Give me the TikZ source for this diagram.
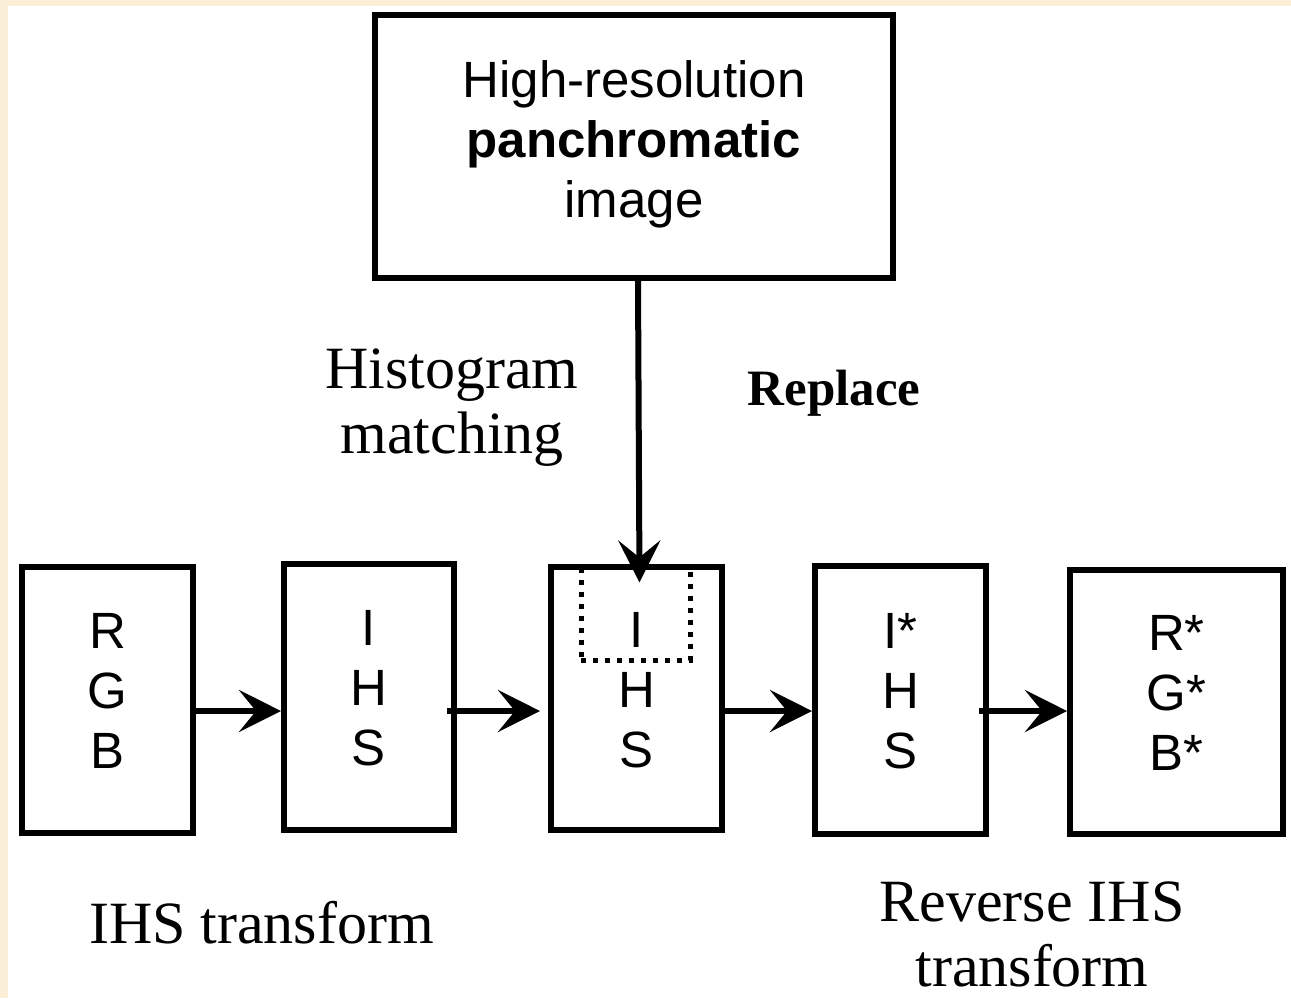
\documentclass[tikz,border=0pt]{standalone}
\usepackage{fontspec}
\setmainfont{Liberation Serif}
\setsansfont{Liberation Sans}
\usetikzlibrary{arrows.meta,positioning}
\definecolor{paper}{RGB}{250,238,214}

\begin{document}
\begin{tikzpicture} [x=0.5pt,y=-0.5pt,->,>={Stealth[length=21pt,width=21pt,inset=8.5pt]},line width=3pt,
  block/.style={draw,rectangle,align=center,font=\sffamily\fontsize{25.5}{30}\selectfont,text depth=9pt},
  caption/.style={align=center,font=\fontsize{30}{32.5}\selectfont}]

  \useasboundingbox (0,0) rectangle (1291,998);
  \fill[paper] (0,0) rectangle (1291,998);
  \fill[white] (8,6) rectangle (1291,998);

  \node[block,minimum width=259pt,minimum height=131.5pt,text depth=7pt] (pan) at (634,146.5) {High-resolution\\\textbf{panchromatic}\\image};

  % slot of the I band that gets replaced
  \node[draw,rectangle,minimum width=54.5pt,minimum height=46.5pt,line width=2.5pt,dash pattern=on 2.5pt off 3.5pt] (islot) at (635.5,613.5) {};

  \node[block,minimum width=85.5pt,minimum height=133pt] (rgb) at (107.5,700) {R\\G\\B};
  \node[block,minimum width=85pt,minimum height=133pt] (ihs) at (369,697) {I\\H\\S};
  \node[block,minimum width=85.5pt,minimum height=131.5pt] (ihsi) at (636.5,698.5) {I\\H\\S};
  \node[block,minimum width=85.5pt,minimum height=134pt] (ihsnew) at (900.5,700) {I*\\H\\S};
  \node[block,minimum width=106.5pt,minimum height=132pt] (rgbnew) at (1176.5,702) {R*\\G*\\B*};

  \node[caption] (hist) at (452,408) {Histogram\\matching};
  \node[caption,font=\bfseries\fontsize{25.5}{30}\selectfont] (repl) at (834,393) {Replace};
  \node[caption] (fwd) at (261.5,922.5) {IHS transform};
  \node[caption] (rev) at (1032,934) {Reverse IHS\\transform};

  \coordinate (flow) at (0,711);

  \path
    ([xshift=2pt]pan.south) edge ([xshift=2pt,yshift=-9pt]islot.north)
    (rgb.east |- flow) edge (ihs.west |- flow)
    (ihs.east |- flow) edge [shorten <=-5pt,shorten >=4pt] (ihsi.west |- flow)
    (ihsi.east |- flow) edge (ihsnew.west |- flow)
    (ihsnew.east |- flow) edge [shorten <=-5pt] (rgbnew.west |- flow);

\end{tikzpicture}
\end{document}
